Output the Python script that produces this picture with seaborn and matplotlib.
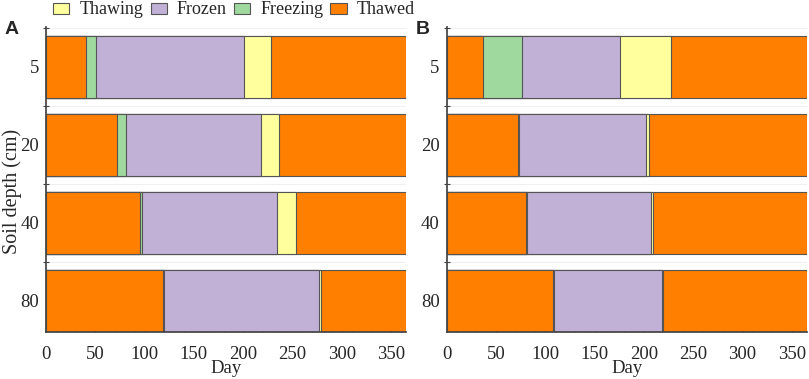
import matplotlib
matplotlib.use('Agg')
import matplotlib.pyplot as plt
import seaborn as sns
import pandas as pd
from matplotlib.patches import Patch
from matplotlib.ticker import MultipleLocator, FixedLocator

# ---- data ----
depths = ['5', '20', '40', '80']
legend_phases = ['Thawing', 'Frozen', 'Freezing', 'Thawed']
phase_colors = {'Thawing': '#ffff9e', 'Frozen': '#c1b1d7',
                'Freezing': '#a0d99d', 'Thawed': '#ff7f00'}
year_end = 365

# Panel A: day boundaries of each phase per depth
a_freeze_start = [41, 72, 95, 119]
a_freeze_end = [51, 81, 97.5, 120]
a_thaw_start = [201, 217.5, 234, 277]
a_thaw_end = [228, 236, 253, 278.6]

# Panel B
b_freeze_start = [37, 72, 81, 107.7]
b_freeze_end = [76, 73, 82, 109]
b_thaw_start = [176, 202, 207, 218.5]
b_thaw_end = [227, 205.7, 209.5, 219.5]

sns.set_theme(style='ticks')
plt.rcParams['font.family'] = ['Liberation Serif', 'DejaVu Serif']
plt.rcParams['axes.edgecolor'] = '#444444'

W, H = 809, 379
fig = plt.figure(figsize=(W / 100, H / 100), dpi=100)
axA = fig.add_axes([46 / W, 1 - 332 / H, 360 / W, 305 / H])
axB = fig.add_axes([446.5 / W, 1 - 332 / H, 360.2 / W, 305 / H])


def draw(ax, fs, fe, ts, te, ylabel):
    layers = [('Thawed', [year_end] * len(depths)), ('Thawing', te),
              ('Frozen', ts), ('Freezing', fe), ('Thawed', fs)]
    for phase, ends in layers:
        df = pd.DataFrame({'depth': depths, 'day': ends})
        sns.barplot(data=df, x='day', y='depth', orient='h',
                    color=phase_colors[phase], saturation=1, width=0.8,
                    edgecolor='#555555', linewidth=0.8, errorbar=None, ax=ax)
    ax.set_xlim(0, year_end)
    ax.set_ylim(3.4, -0.51)
    ax.xaxis.set_major_locator(MultipleLocator(50))
    ax.xaxis.set_minor_locator(MultipleLocator(10))
    ax.yaxis.set_major_locator(FixedLocator([0, 1, 2, 3]))
    ax.set_yticklabels(depths)
    ax.yaxis.set_minor_locator(FixedLocator([-0.5, 0.5, 1.5, 2.5]))
    ax.tick_params(axis='x', which='major', direction='in', length=5,
                   width=0.8, color='#444444', labelsize=13.5, pad=10)
    ax.tick_params(axis='x', which='minor', direction='in', length=2.5,
                   width=0.6, color='#444444')
    ax.tick_params(axis='y', which='major', length=0, labelsize=13.5, pad=5)
    ax.tick_params(axis='y', which='minor', direction='inout', length=5,
                   width=0.8, color='#444444')
    ax.grid(axis='y', which='minor', color='#f0f0f0', linewidth=0.8)
    ax.set_axisbelow(True)
    for s in ['top', 'right']:
        ax.spines[s].set_visible(False)
    ax.set_xlabel('Day', fontsize=13.5, labelpad=-2)
    ax.set_ylabel(ylabel, fontsize=14.5)
    ax.yaxis.set_label_coords(-0.067, 0.46)


draw(axA, a_freeze_start, a_freeze_end, a_thaw_start, a_thaw_end, 'Soil depth (cm)')
draw(axB, b_freeze_start, b_freeze_end, b_thaw_start, b_thaw_end, '')

handles = [Patch(facecolor=phase_colors[p], edgecolor='#555555', linewidth=0.8)
           for p in legend_phases]
fig.legend(handles, legend_phases, loc='center',
           bbox_to_anchor=(234 / W, 1 - 10 / H), ncol=4, frameon=False,
           fontsize=13, handlelength=0.9, handleheight=0.55,
           handletextpad=0.55, columnspacing=0.4, borderaxespad=0,
           borderpad=0)

fig.text(5 / W, 1 - 34 / H, 'A', fontsize=14, fontweight='bold',
         family=['Liberation Sans', 'DejaVu Sans'])
fig.text(416 / W, 1 - 34 / H, 'B', fontsize=14, fontweight='bold',
         family=['Liberation Sans', 'DejaVu Sans'])

fig.savefig('out.png', dpi=100)
